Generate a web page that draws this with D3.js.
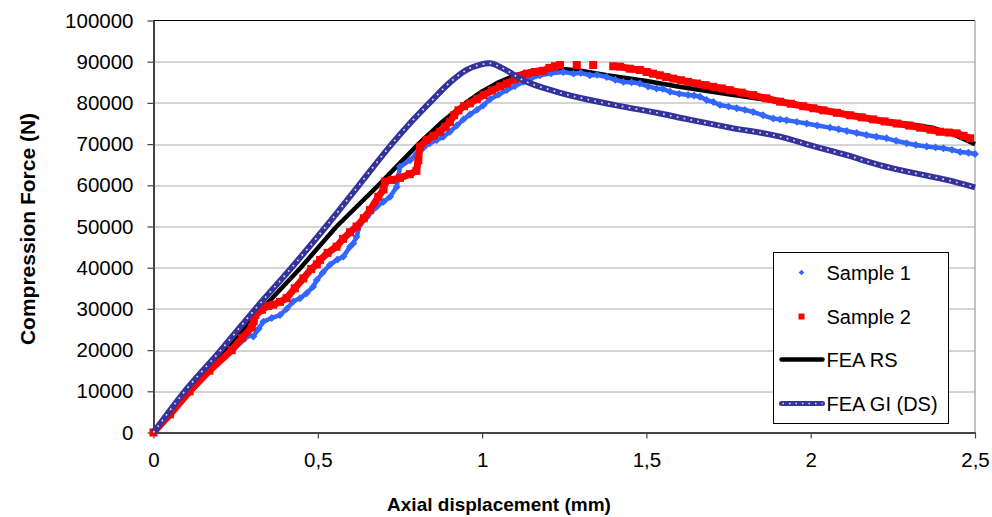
<!DOCTYPE html>
<html>
<head>
<meta charset="utf-8">
<script src="https://cdn.jsdelivr.net/npm/d3@7"></script>
<style>
  body { margin: 0; background: #fff; }
  text { font-family: "Liberation Sans", Arial, sans-serif; fill: #000; }
</style>
</head>
<body>
<div id="chart"></div>
<script>
// data: [displacement mm, force N]
var sample1 = [[0,0],[0.05,4200],[0.11,9800],[0.17,14900],[0.24,19900],[0.29,23600],[0.304,23300],[0.32,25200],[0.334,26900],[0.36,27800],[0.385,28500],[0.405,30000],[0.425,31800],[0.446,32600],[0.466,33800],[0.486,35400],[0.497,37000],[0.515,38800],[0.537,40700],[0.56,42000],[0.578,42700],[0.598,45100],[0.608,45900],[0.618,47500],[0.628,50400],[0.65,52300],[0.679,54800],[0.70,56000],[0.72,57200],[0.74,59600],[0.745,62000],[0.75,64500],[0.781,66100],[0.801,67700],[0.82,69000],[0.841,70200],[0.862,71000],[0.882,71800],[0.902,73000],[0.923,74500],[0.943,76000],[0.963,77200],[0.984,78300],[1.004,79400],[1.024,80900],[1.05,82000],[1.075,83100],[1.10,84100],[1.125,85100],[1.15,86000],[1.176,86700],[1.21,87200],[1.247,87500],[1.278,87100],[1.30,87300],[1.328,86700],[1.35,86800],[1.379,86300],[1.405,85600],[1.43,85100],[1.455,85000],[1.48,84700],[1.505,84000],[1.531,83500],[1.55,83400],[1.572,82700],[1.60,82200],[1.627,81900],[1.645,81800],[1.663,81500],[1.683,80700],[1.704,80200],[1.724,79500],[1.75,79100],[1.775,78700],[1.80,78300],[1.825,77800],[1.855,77000],[1.886,76200],[1.907,76000],[1.927,75800],[1.958,75400],[1.988,75000],[2.02,74500],[2.059,74000],[2.085,73600],[2.11,73200],[2.14,72700],[2.17,72200],[2.20,71800],[2.231,71400],[2.26,70800],[2.292,70200],[2.32,69800],[2.353,69400],[2.38,69200],[2.404,69000],[2.43,68600],[2.455,68100],[2.48,67900],[2.5,67600]];

var sample2 = [[0,0],[0.05,4400],[0.11,10000],[0.17,15000],[0.238,20000],[0.27,23000],[0.299,25500],[0.305,27000],[0.31,28500],[0.33,29800],[0.348,30700],[0.364,31000],[0.385,31700],[0.405,32600],[0.43,35000],[0.456,37400],[0.48,39700],[0.497,40800],[0.507,41900],[0.53,43600],[0.557,45100],[0.577,47000],[0.598,48600],[0.618,50000],[0.64,52000],[0.659,54000],[0.684,57200],[0.70,59000],[0.704,60900],[0.725,61300],[0.75,61800],[0.78,62700],[0.80,63500],[0.806,66100],[0.811,69400],[0.831,71000],[0.852,72000],[0.872,73000],[0.888,74200],[0.902,75400],[0.915,77000],[0.928,78200],[0.945,79200],[0.963,79900],[0.984,80900],[1.004,81900],[1.03,83000],[1.055,84000],[1.075,84700],[1.10,85800],[1.118,86500],[1.136,87100],[1.16,87500],[1.186,87800],[1.205,88500],[1.222,88900],[1.237,89200],[1.288,89200],[1.338,89200],[1.399,88900],[1.42,88800],[1.45,88300],[1.48,88000],[1.501,87500],[1.52,87100],[1.541,86700],[1.56,86300],[1.582,85900],[1.605,85500],[1.627,85100],[1.654,84700],[1.68,84300],[1.704,83900],[1.73,83500],[1.754,83100],[1.79,82500],[1.825,81900],[1.865,81100],[1.907,80300],[1.94,79800],[1.977,79200],[2.008,78700],[2.038,78200],[2.08,77600],[2.12,77000],[2.155,76500],[2.19,76000],[2.225,75500],[2.262,75000],[2.30,74500],[2.333,74000],[2.365,73500],[2.393,73000],[2.42,72800],[2.444,72600],[2.465,72000],[2.485,71400]];
// sample 2 has missing readings after these displacements (trace not joined)
var sample2Gaps = [1.237, 1.288, 1.338];

var feaRS = [[0,0],[0.1,10000],[0.215,20000],[0.33,30000],[0.448,40000],[0.557,50000],[0.684,60000],[0.806,70000],[0.88,75500],[0.95,80000],[1.0,82800],[1.05,85000],[1.1,86700],[1.16,87900],[1.22,88400],[1.3,87800],[1.38,86700],[1.5,85300],[1.6,83900],[1.75,82100],[1.9,80300],[2.05,78300],[2.2,75900],[2.3,74900],[2.37,74000],[2.43,72500],[2.5,70000]];

var feaGI = [[0,0],[0.095,10000],[0.205,20000],[0.31,30000],[0.42,40000],[0.525,50000],[0.625,60000],[0.725,70000],[0.78,75000],[0.84,80000],[0.9,84800],[0.953,88000],[0.995,89300],[1.024,89600],[1.06,88500],[1.125,85500],[1.227,82700],[1.328,80700],[1.429,79100],[1.531,77600],[1.627,76000],[1.754,74000],[1.907,71800],[2.008,69500],[2.11,67300],[2.21,64900],[2.312,63000],[2.414,61300],[2.5,59500]];

var xTicks = [0, 0.5, 1, 1.5, 2, 2.5];
var xTickLabels = ["0", "0,5", "1", "1,5", "2", "2,5"];
var yTicks = [0, 10000, 20000, 30000, 40000, 50000, 60000, 70000, 80000, 90000, 100000];
var legendNames = ["Sample 1", "Sample 2", "FEA RS", "FEA GI (DS)"];

var svgWidth = 992;
var svgHeight = 517;
var margin = { top: 20.5, right: 17, left: 153.5, bottom: 84.5 };
var width = svgWidth - margin.left - margin.right;
var height = svgHeight - margin.top - margin.bottom;

var svg = d3.select("#chart").append("svg")
    .attr("width", svgWidth)
    .attr("height", svgHeight);

var chartGroup = svg.append("g")
    .attr("transform", `translate(${margin.left}, ${margin.top})`);

var xScale = d3.scaleLinear().domain([0, 2.5]).range([0, width]);
var yScale = d3.scaleLinear().domain([0, 100000]).range([height, 0]);

// gridlines (dotted) + plot border
chartGroup.selectAll(".grid")
  .data(yTicks.filter(d => d > 0 && d < 100000))
  .enter().append("line")
  .attr("x1", 0).attr("x2", width)
  .attr("y1", d => Math.round(yScale(d)) + 0.5)
  .attr("y2", d => Math.round(yScale(d)) + 0.5)
  .attr("stroke", "#555")
  .attr("stroke-dasharray", "1,1");

chartGroup.append("line")
  .attr("x1", 0).attr("x2", width)
  .attr("y1", yScale(100000)).attr("y2", yScale(100000))
  .attr("stroke", "#000");
chartGroup.append("line")
  .attr("x1", width).attr("x2", width)
  .attr("y1", 0).attr("y2", height)
  .attr("stroke", "#888");

// axes
var xAxis = d3.axisBottom(xScale)
  .tickValues(xTicks)
  .tickFormat((d, i) => xTickLabels[i])
  .tickSize(6).tickSizeOuter(0).tickPadding(14);
var yAxis = d3.axisLeft(yScale)
  .tickValues(yTicks)
  .tickFormat(d3.format("d"))
  .tickSize(6).tickSizeOuter(0).tickPadding(14);

var xg = chartGroup.append("g")
  .attr("transform", `translate(0, ${height})`)
  .call(xAxis);
var yg = chartGroup.append("g").call(yAxis);

[xg, yg].forEach(function(g) {
  g.select(".domain").attr("stroke", "#444").attr("stroke-width", 2);
  g.selectAll(".tick line").attr("stroke", "#444").attr("stroke-width", 1.2);
  g.selectAll(".tick text")
    .style("font-family", '"Liberation Sans", Arial, sans-serif')
    .style("font-size", "20.5px")
    .attr("fill", "#000");
});

var line = d3.line()
  .x(d => xScale(d[0]))
  .y(d => yScale(d[1]));

// FEA RS (black)
chartGroup.append("path")
  .datum(feaRS)
  .attr("d", line)
  .attr("fill", "none")
  .attr("stroke", "#000")
  .attr("stroke-width", 4.5)
  .attr("stroke-linejoin", "round");

// Sample 1 (blue diamonds)
chartGroup.append("path")
  .datum(sample1)
  .attr("d", line)
  .attr("fill", "none")
  .attr("stroke", "#3366ff")
  .attr("stroke-width", 4.5)
  .attr("stroke-linejoin", "round");

var diamond = d3.symbol().type(d3.symbolDiamond2).size(40);
chartGroup.selectAll(".s1")
  .data(sample1)
  .enter().append("path")
  .attr("transform", d => `translate(${xScale(d[0])}, ${yScale(d[1])})`)
  .attr("d", diamond)
  .attr("fill", "#3366ff");

// Sample 2 (red squares), joined except where readings are missing
var s2Segments = [];
var seg = [];
sample2.forEach(function(d) {
  seg.push(d);
  if (sample2Gaps.indexOf(d[0]) >= 0) { s2Segments.push(seg); seg = []; }
});
s2Segments.push(seg);

chartGroup.selectAll(".s2line")
  .data(s2Segments)
  .enter().append("path")
  .attr("d", line)
  .attr("fill", "none")
  .attr("stroke", "#ff0000")
  .attr("stroke-width", 7)
  .attr("stroke-linejoin", "round");

chartGroup.selectAll(".s2")
  .data(sample2)
  .enter().append("rect")
  .attr("x", d => xScale(d[0]) - 4)
  .attr("y", d => yScale(d[1]) - 4)
  .attr("width", 8)
  .attr("height", 8)
  .attr("fill", "#ff0000");

// FEA GI (navy with white dots)
var giLine = d3.line().curve(d3.curveMonotoneX).x(d => xScale(d[0])).y(d => yScale(d[1]));
chartGroup.append("path")
  .datum(feaGI)
  .attr("d", giLine)
  .attr("fill", "none")
  .attr("stroke", "#333399")
  .attr("stroke-width", 6);
chartGroup.append("path")
  .datum(feaGI)
  .attr("d", giLine)
  .attr("fill", "none")
  .attr("stroke", "#dcdcf2")
  .attr("stroke-width", 1.7)
  .attr("stroke-dasharray", "1.7,5.3");

// axis titles
svg.append("text")
  .attr("x", 499)
  .attr("y", 511)
  .attr("text-anchor", "middle")
  .style("font-size", "19px")
  .style("font-weight", "bold")
  .text("Axial displacement (mm)");

svg.append("text")
  .attr("transform", "translate(35, 229) rotate(-90)")
  .attr("text-anchor", "middle")
  .style("font-size", "21px")
  .style("font-weight", "bold")
  .text("Compression Force (N)");

// legend
var legend = svg.append("g").attr("transform", "translate(773.5, 252.5)");
legend.append("rect")
  .attr("width", 175).attr("height", 171)
  .attr("fill", "#fff")
  .attr("stroke", "#000");

var rowY = [20, 64, 107, 151];
legend.selectAll(".ltext")
  .data(legendNames)
  .enter().append("text")
  .attr("x", 53)
  .attr("y", (d, i) => rowY[i])
  .attr("dy", "0.35em")
  .style("font-size", "20px")
  .text(d => d);

legend.append("path")
  .attr("transform", `translate(28, ${rowY[0]})`)
  .attr("d", d3.symbol().type(d3.symbolDiamond2).size(20))
  .attr("fill", "#3366ff");
legend.append("rect")
  .attr("x", 25).attr("y", rowY[1] - 3)
  .attr("width", 6).attr("height", 6)
  .attr("fill", "#ff0000");
legend.append("line")
  .attr("x1", 8).attr("x2", 49)
  .attr("y1", rowY[2]).attr("y2", rowY[2])
  .attr("stroke", "#000").attr("stroke-width", 4.5)
  .attr("stroke-linecap", "round");
legend.append("line")
  .attr("x1", 8).attr("x2", 49)
  .attr("y1", rowY[3]).attr("y2", rowY[3])
  .attr("stroke", "#333399").attr("stroke-width", 5)
  .attr("stroke-linecap", "round");
legend.append("line")
  .attr("x1", 9).attr("x2", 49)
  .attr("y1", rowY[3]).attr("y2", rowY[3])
  .attr("stroke", "#dcdcf2").attr("stroke-width", 1.5)
  .attr("stroke-dasharray", "1.5,5");
</script>
</body>
</html>
